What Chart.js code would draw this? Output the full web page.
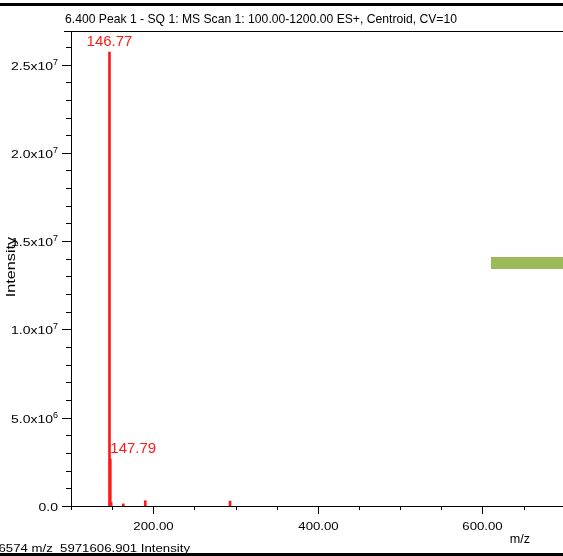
<!DOCTYPE html>
<html>
<head>
<meta charset="utf-8">
<script src="https://cdn.jsdelivr.net/npm/chart.js@4/dist/chart.umd.min.js"></script>
<style>
  html, body { margin: 0; padding: 0; background: #fff; overflow: hidden; }
  canvas { display: block; }
</style>
</head>
<body>
<canvas id="spectrum" width="563" height="556"></canvas>
<script>
// centroid peaks: m/z and intensity
var peakMz = [146.77, 147.79, 148.85, 163.6, 190.3, 293.3];
var peakIntensity = [25700000, 2660000, 200000, 120000, 300000, 280000];
// which peaks get an m/z label
var labelledPeaks = [0, 1];

// axis ticks: every value gets a tick mark, majors get a label
var xTickValues = [100, 150, 200, 250, 300, 350, 400, 450, 500, 550, 600, 650];
var xMajorTicks = [200, 400, 600];
var yTickValues = [0, 1e6, 2e6, 3e6, 4e6, 5e6, 6e6, 7e6, 8e6, 9e6, 1e7, 1.1e7, 1.2e7, 1.3e7,
  1.4e7, 1.5e7, 1.6e7, 1.7e7, 1.8e7, 1.9e7, 2e7, 2.1e7, 2.2e7, 2.3e7, 2.4e7, 2.5e7, 2.6e7];
var yMajorTicks = [0, 5e6, 1e7, 1.5e7, 2e7, 2.5e7];

var titleText = '6.400 Peak 1 - SQ 1: MS Scan 1: 100.00-1200.00 ES+, Centroid, CV=10';
var cursorText = '6574 m/z  5971606.901 Intensity';
var xTitle = 'm/z';
var yTitle = 'Intensity';

var SANS = '"Liberation Sans", Arial, sans-serif';

// text with optional horizontal stretch
function txt(ctx, s, x, y, size, align, sx, color) {
  sx = sx || 1;
  ctx.save();
  ctx.font = size + 'px ' + SANS;
  ctx.fillStyle = color || '#000';
  ctx.textBaseline = 'alphabetic';
  var w = ctx.measureText(s).width * sx;
  var left = align == 'right' ? x - w : align == 'center' ? x - w / 2 : x;
  ctx.translate(left, y);
  ctx.scale(sx, 1);
  ctx.textAlign = 'left';
  ctx.fillText(s, 0, 0);
  ctx.restore();
  return w;
}

function tickLabel(v) {
  if (v === 0) return ['0.0', ''];
  var e = Math.floor(Math.log10(v) + 1e-9);
  return [(v / Math.pow(10, e)).toFixed(1) + 'x10', String(e)];
}

function useTicks(values) {
  return function(scale) {
    scale.ticks = values.map(function(v) { return { value: v }; });
  };
}

var decorations = {
  id: 'decorations',
  beforeDraw: function(chart) {
    var ctx = chart.ctx;
    ctx.save();
    ctx.fillStyle = '#fff';
    ctx.fillRect(0, 0, chart.width, chart.height);
    ctx.restore();
  },
  afterDraw: function(chart) {
    var ctx = chart.ctx;
    var area = chart.chartArea;
    var xs = chart.scales.x, ys = chart.scales.y;
    ctx.save();

    // window edges
    ctx.fillStyle = '#000';
    ctx.fillRect(0, 3, chart.width, 3);
    ctx.fillRect(0, 553, chart.width, 3);

    // frame: top edge with corner tick, left axis, bottom axis
    ctx.strokeStyle = '#000';
    ctx.lineWidth = 1;
    ctx.beginPath();
    ctx.moveTo(64, area.top + 0.5);
    ctx.lineTo(chart.width, area.top + 0.5);
    ctx.moveTo(area.left + 0.5, area.top);
    ctx.lineTo(area.left + 0.5, area.bottom);
    ctx.moveTo(area.left, area.bottom + 0.5);
    ctx.lineTo(chart.width, area.bottom + 0.5);
    ctx.stroke();

    // y ticks
    ys.ticks.forEach(function(t) {
      var v = t.value;
      var py = Math.round(ys.getPixelForValue(v)) + 0.5;
      var major = yMajorTicks.indexOf(v) >= 0;
      ctx.beginPath();
      ctx.moveTo(area.left, py);
      ctx.lineTo(area.left - (major ? 9 : 5), py);
      ctx.stroke();
      if (major) {
        var parts = tickLabel(v);
        var supW = parts[1] ? txt(ctx, parts[1], 58, py - 1, 9, 'right', 1) : 0;
        txt(ctx, parts[0], 58 - supW, py + 4, 11, 'right', 1.27);
      }
    });

    // x ticks
    xs.ticks.forEach(function(t) {
      var v = t.value;
      var px = Math.round(xs.getPixelForValue(v)) + 0.5;
      var major = xMajorTicks.indexOf(v) >= 0;
      ctx.beginPath();
      ctx.moveTo(px, area.bottom);
      ctx.lineTo(px, area.bottom + (major ? 8 : 4));
      ctx.stroke();
      if (major) txt(ctx, v.toFixed(2), px, 530, 11, 'center', 1.2);
    });

    // titles
    txt(ctx, titleText, 65, 23, 13, 'left', 0.935);
    txt(ctx, xTitle, 520, 543, 12, 'center', 1.05);
    txt(ctx, cursorText, 190, 552, 11, 'right', 1.2);
    ctx.save();
    ctx.translate(15, 267);
    ctx.rotate(-Math.PI / 2);
    txt(ctx, yTitle, 0, 0, 12, 'center', 1.35);
    ctx.restore();

    // peak labels
    var meta = chart.getDatasetMeta(0);
    labelledPeaks.forEach(function(i, k) {
      var bar = meta.data[i];
      var label = peakMz[i].toFixed(2);
      txt(ctx, label, bar.x, bar.y - 6, 15, k === 0 ? 'center' : 'left', 1, '#ff1a1a');
    });

    // legend swatch
    ctx.fillStyle = '#9bbb59';
    ctx.fillRect(491, 257, chart.width - 491, 12);

    ctx.restore();
  }
};

new Chart(document.getElementById('spectrum'), {
  type: 'bar',
  data: {
    datasets: [{
      data: peakMz.map(function(mz, i) { return { x: mz, y: peakIntensity[i] }; }),
      backgroundColor: '#ff1a1a',
      barThickness: 2
    }]
  },
  options: {
    responsive: false,
    animation: false,
    layout: { padding: { left: 71, top: 31, right: 0, bottom: 50 } },
    plugins: { legend: { display: false }, tooltip: { enabled: false } },
    scales: {
      x: {
        type: 'linear',
        offset: false,
        min: 100,
        max: 698,
        ticks: { display: false },
        grid: { display: false, offset: false },
        border: { display: false },
        afterBuildTicks: useTicks(xTickValues),
        afterFit: function(s) { s.height = 0; }
      },
      y: {
        min: 0,
        max: 26900000,
        ticks: { display: false },
        grid: { display: false },
        border: { display: false },
        afterBuildTicks: useTicks(yTickValues),
        afterFit: function(s) { s.width = 0; }
      }
    }
  },
  plugins: [decorations]
});
</script>
</body>
</html>
